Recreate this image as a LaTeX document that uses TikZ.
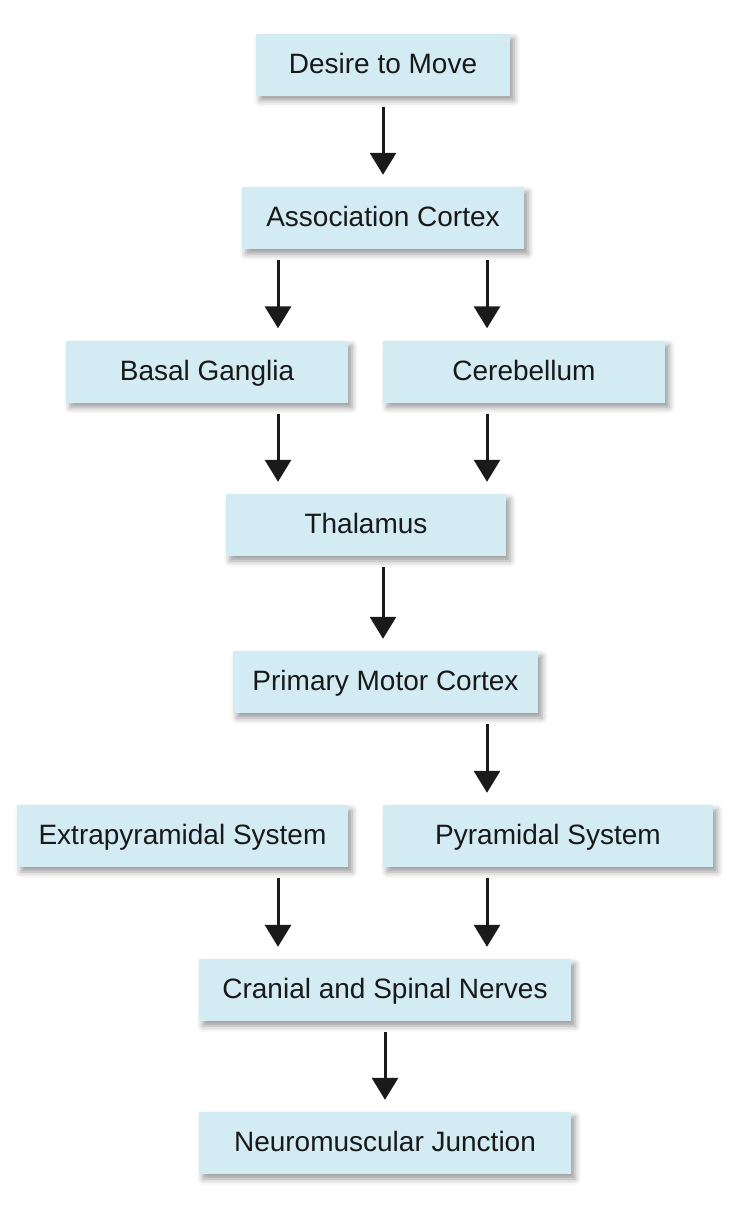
\documentclass[tikz,border=0pt]{standalone}
\usepackage{fontspec}
\setmainfont{Liberation Sans}
\usetikzlibrary{arrows.meta,shadows.blur}
\definecolor{boxblue}{HTML}{D3EBF3}
\definecolor{arrowgray}{HTML}{1A1A1A}

\begin{document}
\begin{tikzpicture}[x=1pt, y=-1pt,
		stepbox/.style={fill=boxblue, draw=none, minimum height=62pt, inner sep=0pt,
			text height=22pt, text depth=5pt,
			font=\fontsize{28}{32}\selectfont, text=black!90,
			blur shadow={shadow xshift=4pt, shadow yshift=-5pt, shadow blur radius=6pt, shadow opacity=40}},
		flow/.style={draw=arrowgray, line width=3pt, shorten <=11pt, shorten >=12pt,
			-{Triangle[width=26pt, length=22pt]}}]
			%%%%% START %%%%%
			
			\useasboundingbox (0, 0) rectangle (740, 1210);
			
			\node[stepbox, minimum width=254pt] (desire) at (383, 64.5) {Desire to Move};
			\node[stepbox, minimum width=282pt] (assoc) at (383, 218) {Association Cortex};
			
			\node[stepbox, minimum width=282pt] (basal) at (207, 371.5) {Basal Ganglia};
			\node[stepbox, minimum width=282pt] (cereb) at (524, 371.5) {Cerebellum};
			
			\node[stepbox, minimum width=280pt] (thal) at (366, 525) {Thalamus};
			\node[stepbox, minimum width=305pt] (motor) at (385.5, 682) {Primary Motor Cortex};
			
			\node[stepbox, minimum width=331pt] (extra) at (182.5, 836) {Extrapyramidal System};
			\node[stepbox, minimum width=330pt] (pyram) at (548, 836) {Pyramidal System};
			
			\node[stepbox, minimum width=372pt] (nerves) at (385, 990) {Cranial and Spinal Nerves};
			\node[stepbox, minimum width=372pt] (junct) at (385, 1143) {Neuromuscular Junction};
			
			% arrows
			\draw[flow] (desire.south) -- (assoc.north);
			\draw[flow] ([xshift=-105pt]assoc.south) -- ([xshift=71pt]basal.north);
			\draw[flow] ([xshift=104pt]assoc.south) -- ([xshift=-37pt]cereb.north);
			\draw[flow] ([xshift=71pt]basal.south) -- ([xshift=-88pt]thal.north);
			\draw[flow] ([xshift=-37pt]cereb.south) -- ([xshift=121pt]thal.north);
			\draw[flow] ([xshift=17pt]thal.south) -- ([xshift=-2.5pt]motor.north);
			\draw[flow] ([xshift=101.5pt]motor.south) -- ([xshift=-61pt]pyram.north);
			\draw[flow] ([xshift=95.5pt]extra.south) -- ([xshift=-107pt]nerves.north);
			\draw[flow] ([xshift=-61pt]pyram.south) -- ([xshift=102pt]nerves.north);
			\draw[flow] (nerves.south) -- (junct.north);
			
			%%%%% END %%%%%
		\end{tikzpicture}
\end{document}
